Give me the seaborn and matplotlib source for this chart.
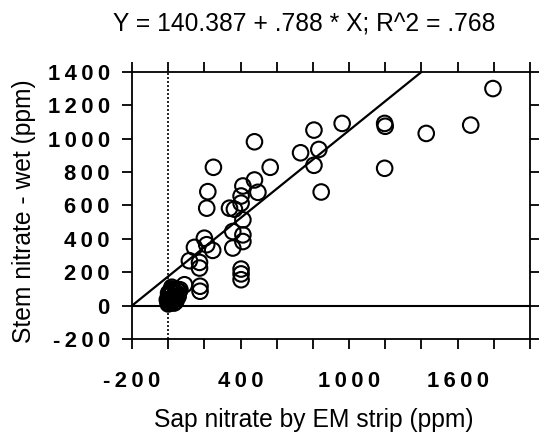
import matplotlib
matplotlib.use("Agg")
import matplotlib.pyplot as plt
import seaborn as sns
import numpy as np
import pandas as pd

# data
sap_x = [1796, 1673, 1427, 1197, 1200, 1197, 962, 806, 833, 732, 806, 846,
         564, 477, 477, 496, 413, 403, 403, 339, 366, 413, 357, 413, 413, 357,
         403, 403, 403, 250, 219, 213, 200, 213, 246, 145, 117, 173, 173, 176,
         176, 90,
         0, 5, 10, 15, 20, 25, 30, 40, 50, 0, 10, 20, 35, 60,
         -5, 8, 18, 28, 38, 48, 12, 22, 32, 42, 2, 55, 65, 45]
stem_y = [1301, 1082, 1032, 1092, 1075, 823, 1092, 1052, 936, 916, 841, 681,
          829, 982, 753, 679, 717, 657, 614, 584, 578, 514, 444, 424, 384, 345,
          219, 155, 190, 829, 683, 584, 404, 365, 331, 349, 269, 259, 225, 116,
          86, 125,
          20, 40, 60, 80, 100, 30, 50, 70, 90, 10, 65, 110, 45, 85,
          35, 15, 25, 35, 55, 75, 85, 95, 15, 25, 75, 55, 95, 40]
fit_x = [-200, 1400]
fit_y = [0, 1400]

x_ticks = [-200, 400, 1000, 1600]
y_ticks = [-200, 0, 200, 400, 600, 800, 1000, 1200, 1400]
title = "Y = 140.387 + .788 * X; R^2 = .768"
x_label = "Sap nitrate by EM strip (ppm)"
y_label = "Stem nitrate - wet (ppm)"

sns.set_theme(style="white")
plt.rcParams['font.family'] = ['Liberation Sans', 'DejaVu Sans']

fig = plt.figure(figsize=(5.39, 4.34), dpi=100)
ax = fig.add_axes([0.245, 0.219, 0.738, 0.615])

df = pd.DataFrame({"x": sap_x, "y": stem_y})
sns.scatterplot(data=df, x="x", y="y", ax=ax, marker="o", s=125,
                facecolor="none", edgecolor="black", linewidth=1.5, zorder=3)
sns.lineplot(x=fit_x, y=fit_y, ax=ax, color="black", linewidth=1.6, zorder=2)
ax.axhline(0, color="black", linewidth=1.5, zorder=1)
ax.axvline(0, color="black", linewidth=1.2, linestyle=(0, (1.2, 1.2)), zorder=1)

ax.set_xlim(-200, 2000)
ax.set_ylim(-200, 1400)
thin = "\u2009"
all_x = list(range(-200, 2001, 200))
ax.set_xticks(all_x)
ax.set_xticklabels([thin.join(str(v)) if v in x_ticks else "" for v in all_x])
ax.set_yticks(y_ticks)
ax.set_yticklabels([thin.join(str(v)) for v in y_ticks])

for s in ax.spines.values():
    s.set_visible(True)
    s.set_color("black")
    s.set_linewidth(1.3)
ax.tick_params(axis="both", which="both", direction="out", length=7, width=1.3,
               color="black", top=True, right=True, bottom=True, left=True,
               labelsize=15.8, labelcolor="black")
ax.tick_params(axis="x", pad=16)
ax.tick_params(axis="y", pad=9)
for lab in ax.get_xticklabels() + ax.get_yticklabels():
    lab.set_fontweight("bold")

ax.set_xlabel(x_label, fontsize=17.7, color="black")
ax.set_ylabel(y_label, fontsize=17.7, color="black")
ax.xaxis.set_label_coords(0.457, -0.258)
ax.yaxis.set_label_coords(-0.242, 0.48)
fig.text(0.564, 0.943, title, ha="center", va="center", fontsize=17.7, color="black")

fig.savefig("out.png", dpi=100, facecolor="white")
